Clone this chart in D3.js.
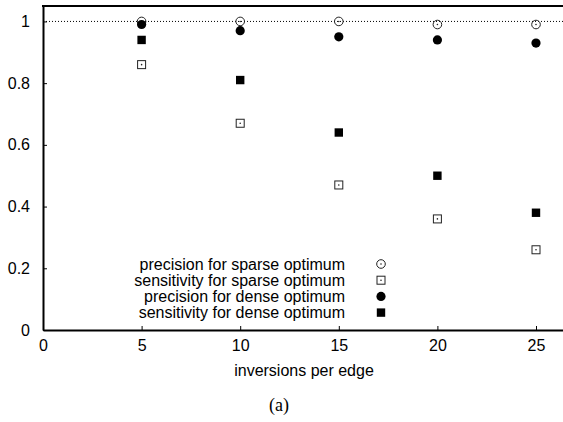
<!DOCTYPE html>
<html lang="en">
<head>
  <meta charset="UTF-8" />
  <title>Inversions per edge</title>
  <script src="https://d3js.org/d3.v7.min.js"></script>
  <style>
    body { margin: 0; background: white; }
    svg { display: block; font-family: "Liberation Sans", Arial, sans-serif; }
    .tick text { font-size: 16px; fill: #000; }
    .legend text { font-size: 16px; }
  </style>
</head>
<body>
  <svg width="563" height="422"></svg>

  <script>
    // values
    const inversions = [5, 10, 15, 20, 25];
    const precisionSparse = [1.0, 1.0, 1.0, 0.99, 0.99];
    const sensitivitySparse = [0.86, 0.67, 0.47, 0.36, 0.26];
    const precisionDense = [0.99, 0.97, 0.95, 0.94, 0.93];
    const sensitivityDense = [0.94, 0.81, 0.64, 0.50, 0.38];

    const xTicks = [0, 5, 10, 15, 20, 25];
    const yTicks = [0, 0.2, 0.4, 0.6, 0.8, 1];
    const yTickLabels = ["0", "0.2", "0.4", "0.6", "0.8", "1"];

    const seriesNames = [
      "precision for sparse optimum",
      "sensitivity for sparse optimum",
      "precision for dense optimum",
      "sensitivity for dense optimum"
    ];
    const seriesValues = [precisionSparse, sensitivitySparse, precisionDense, sensitivityDense];
    const seriesMarks = ["circleOpen", "squareOpen", "circleFill", "squareFill"];

    const svg = d3.select("svg");
    const plotLeft = 43, plotTop = 6, plotBottom = 330;

    const x = d3.scaleLinear().domain([0, 26.5]).range([plotLeft, plotLeft + 26.5 * 19.72]);
    const y = d3.scaleLinear().domain([0, 1.05]).range([plotBottom, plotTop]);

    // reference line at 1
    svg.append("line")
      .attr("x1", plotLeft).attr("x2", 563)
      .attr("y1", y(1)).attr("y2", y(1))
      .attr("stroke", "#000")
      .attr("stroke-width", 1)
      .attr("stroke-dasharray", "1,2");

    // axes, ticks pointing inward
    const xAxis = d3.axisBottom(x).tickValues(xTicks).tickSizeInner(-4).tickSizeOuter(0).tickPadding(10);
    const yAxis = d3.axisLeft(y).tickValues(yTicks).tickSizeInner(-4).tickSizeOuter(0).tickPadding(13)
      .tickFormat((d, i) => yTickLabels[i]);

    const gx = svg.append("g")
      .attr("transform", `translate(0, ${plotBottom})`)
      .call(xAxis);
    const gy = svg.append("g")
      .attr("transform", `translate(${plotLeft}, 0)`)
      .call(yAxis);

    [gx, gy].forEach(g => {
      g.select(".domain").attr("stroke", "#000").attr("stroke-width", 2);
      g.selectAll(".tick line").attr("stroke", "#000");
      g.attr("font-family", null).attr("font-size", null);
    });

    // top border
    svg.append("line")
      .attr("x1", plotLeft - 1).attr("x2", 563)
      .attr("y1", plotTop).attr("y2", plotTop)
      .attr("stroke", "#000").attr("stroke-width", 2);

    function drawMark(g, kind, cx, cy) {
      if (kind === "circleOpen") {
        g.append("circle").attr("cx", cx).attr("cy", cy).attr("r", 4.3)
          .attr("fill", "none").attr("stroke", "#222").attr("stroke-width", 1);
        g.append("circle").attr("cx", cx).attr("cy", cy).attr("r", 0.8).attr("fill", "#222");
      } else if (kind === "squareOpen") {
        g.append("rect").attr("x", cx - 4).attr("y", cy - 4).attr("width", 8).attr("height", 8)
          .attr("fill", "none").attr("stroke", "#222").attr("stroke-width", 1);
        g.append("circle").attr("cx", cx).attr("cy", cy).attr("r", 0.8).attr("fill", "#222");
      } else if (kind === "circleFill") {
        g.append("circle").attr("cx", cx).attr("cy", cy).attr("r", 4.6).attr("fill", "#000");
      } else {
        g.append("rect").attr("x", cx - 4.2).attr("y", cy - 4.2).attr("width", 8.4).attr("height", 8.4)
          .attr("fill", "#000");
      }
    }

    // points (dense drawn after sparse, like the original)
    seriesValues.forEach((vals, s) => {
      const g = svg.append("g");
      vals.forEach((v, i) => drawMark(g, seriesMarks[s], x(inversions[i]), y(v)));
    });

    // legend
    const legend = svg.append("g").attr("class", "legend");
    seriesNames.forEach((name, i) => {
      const ly = 264 + i * 16.2;
      legend.append("text")
        .attr("x", 345).attr("y", ly)
        .attr("dy", "0.35em")
        .attr("text-anchor", "end")
        .text(name);
      drawMark(legend, seriesMarks[i], 381, ly);
    });

    // axis title and caption
    svg.append("text")
      .attr("x", 304).attr("y", 376)
      .attr("text-anchor", "middle")
      .attr("font-size", 16)
      .text("inversions per edge");

    svg.append("text")
      .attr("x", 279).attr("y", 411)
      .attr("text-anchor", "middle")
      .attr("font-family", "'Liberation Serif', 'Times New Roman', serif")
      .attr("font-size", 18)
      .text("(a)");
  </script>
</body>
</html>
